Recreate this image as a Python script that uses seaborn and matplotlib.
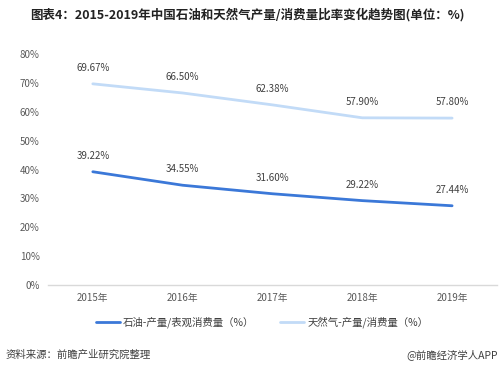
import matplotlib
matplotlib.use("Agg")
import matplotlib.pyplot as plt
import seaborn as sns
import pandas as pd

years = ["2015年", "2016年", "2017年", "2018年", "2019年"]
oil_ratio = [39.22, 34.55, 31.60, 29.22, 27.44]
gas_ratio = [69.67, 66.50, 62.38, 57.90, 57.80]
oil_label = "石油-产量/表观消费量（%）"
gas_label = "天然气-产量/消费量（%）"
y_ticks = [0, 10, 20, 30, 40, 50, 60, 70, 80]

sns.set_style("white")
plt.rcParams['font.family'] = ['Noto Sans CJK SC', 'DejaVu Sans']

df = pd.DataFrame({
    "year": years * 2,
    "idx": list(range(len(years))) * 2,
    "value": oil_ratio + gas_ratio,
    "series": [oil_label] * len(years) + [gas_label] * len(years),
})

fig = plt.figure(figsize=(4.99, 3.75), dpi=100)
ax = fig.add_axes([0.096, 0.24, 0.9, 0.616])

palette = {oil_label: "#3b78d8", gas_label: "#c2dbf7"}
sns.lineplot(data=df, x="idx", y="value", hue="series", palette=palette,
             linewidth=2, ax=ax, legend=False)

for s, vals in [(oil_label, oil_ratio), (gas_label, gas_ratio)]:
    for i, v in enumerate(vals):
        ax.annotate(f"{v:.2f}%", (i, v), xytext=(0, 8), textcoords="offset points",
                    ha="center", va="bottom", fontsize=7, color="#404040")

ax.set_xlim(-0.5, len(years) - 0.5)
ax.set_ylim(0, 80)
ax.set_yticks(y_ticks)
ax.set_yticklabels([f"{t}%" for t in y_ticks])
ax.set_xticks(range(len(years)))
ax.set_xticklabels(years)
ax.tick_params(axis="both", length=0, labelsize=7, labelcolor="#595959")
ax.tick_params(axis="x", pad=6)
ax.tick_params(axis="y", pad=6)
ax.set_xlabel("")
ax.set_ylabel("")
for side in ["top", "right", "left"]:
    ax.spines[side].set_visible(False)
ax.spines["bottom"].set_color("#d9d9d9")
ax.spines["bottom"].set_linewidth(1)

handles = [plt.Line2D([], [], color=palette[oil_label], lw=2),
           plt.Line2D([], [], color=palette[gas_label], lw=2)]
fig.legend(handles, [oil_label, gas_label], loc="center", bbox_to_anchor=(0.525, 0.141),
           ncol=2, frameon=False, fontsize=7.5, handlelength=2.3, handletextpad=0.3,
           columnspacing=2.5, labelcolor="#404040")

fig.text(0.06, 0.96, "图表4：2015-2019年中国石油和天然气产量/消费量比率变化趋势图(单位：%)",
         fontsize=9, fontweight="bold", color="#222222", ha="left", va="center")
fig.text(0.012, 0.053, "资料来源：前瞻产业研究院整理", fontsize=7.5, color="#404040",
         ha="left", va="center")
fig.text(0.998, 0.053, "@前瞻经济学人APP", fontsize=7.5, color="#404040",
         ha="right", va="center")

fig.savefig("out.png", dpi=100)
